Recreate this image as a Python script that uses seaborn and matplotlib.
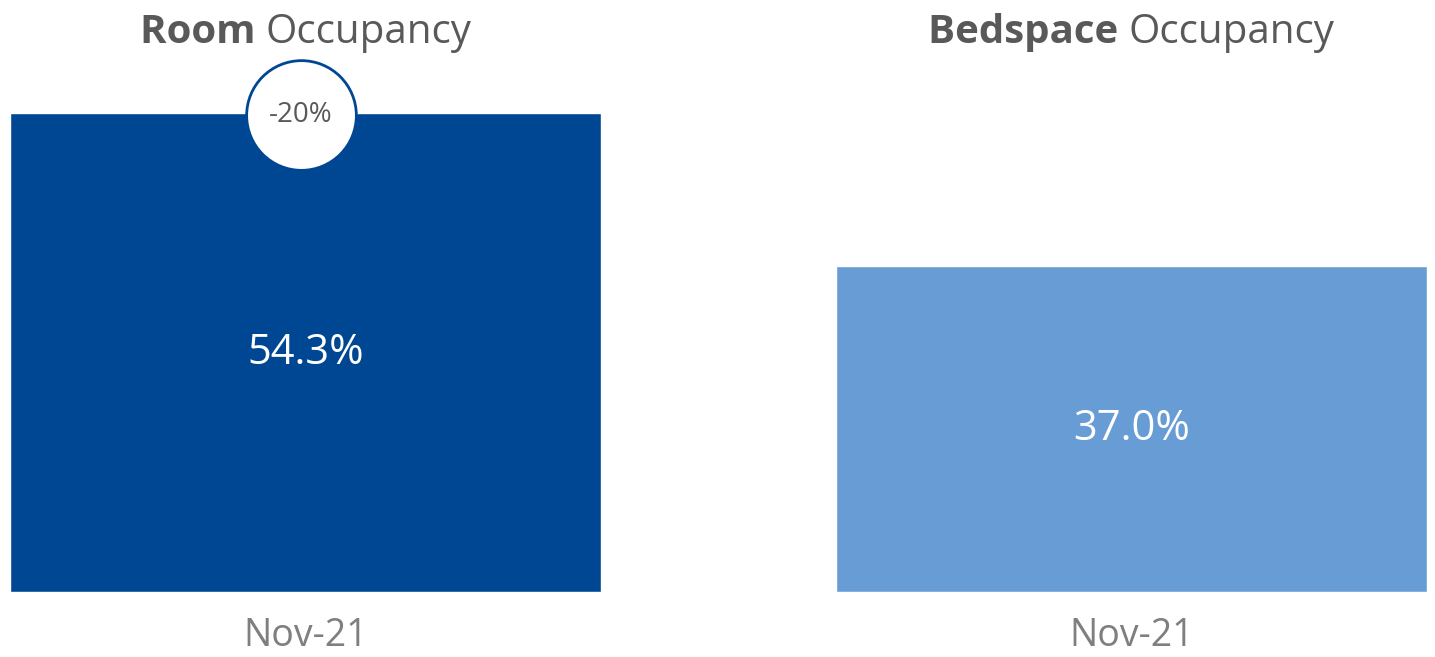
import matplotlib
matplotlib.use("Agg")
import matplotlib.pyplot as plt
import matplotlib.transforms as mtransforms
import seaborn as sns
import pandas as pd

sns.set_theme(style="white")
plt.rcParams['font.family'] = ['Open Sans', 'DejaVu Sans']

# Data
panel_bold = ["Room", "Bedspace"]
panel_rest = ["Occupancy", "Occupancy"]
periods = ["Nov-21"]
room_values = [54.3]
bed_values = [37.0]
room_change = "-20%"

colors = ["#004793", "#689CD4"]
title_color = "#595959"

fig = plt.figure(figsize=(14.35, 6.57), dpi=100)
W, H = 1435, 657
bottom_px = 592
ymax = 60
px_per_unit = 8.82
height_px = ymax * px_per_unit

lefts = [10, 836]
width_px = 591

for i, vals in enumerate([room_values, bed_values]):
    ax = fig.add_axes([lefts[i] / W, (H - bottom_px) / H, width_px / W, height_px / H])
    df = pd.DataFrame({"period": periods, "value": vals})
    sns.barplot(data=df, x="period", y="value", color=colors[i], width=0.8,
                saturation=1, ax=ax)
    ax.set_xlim(-0.4, 0.4)
    ax.set_ylim(0, ymax)
    for s in ax.spines.values():
        s.set_visible(False)
    ax.set_yticks([])
    ax.set_xlabel("")
    ax.set_ylabel("")
    ax.tick_params(axis="x", length=0, pad=18, labelsize=27, labelcolor="#7F7F7F")
    for j, v in enumerate(vals):
        ax.text(j, v * 0.5, f"{v:.1f}%", ha="center", va="center",
                color="white", fontsize=30)
    if i == 0:
        tr = mtransforms.offset_copy(ax.transData, fig=fig, x=-5, y=-2, units="dots")
        ax.scatter([0], [vals[0]], s=79 ** 2, facecolor="white",
                   edgecolor="#004793", linewidth=2, zorder=5, clip_on=False,
                   transform=tr)
        ax.text(0, vals[0], room_change, ha="center", va="center",
                color=title_color, fontsize=20, zorder=6, transform=tr)

# Titles with bold first word
for i in range(2):
    cx = (lefts[i] + width_px / 2) / W
    cy = (H - 43) / H
    t1 = fig.text(cx, cy, panel_bold[i] + " ", fontsize=29, fontweight="bold",
                  color=title_color, ha="left", va="baseline")
    t2 = fig.text(cx, cy, panel_rest[i], fontsize=29, color=title_color,
                  ha="left", va="baseline")
    fig.canvas.draw()
    r = fig.canvas.get_renderer()
    w1 = t1.get_window_extent(r).width
    w2 = t2.get_window_extent(r).width
    total = w1 + w2
    start = lefts[i] + width_px / 2 - total / 2
    t1.set_x(start / W)
    t2.set_x((start + w1) / W)

fig.savefig("out.png", dpi=100, facecolor="white")
